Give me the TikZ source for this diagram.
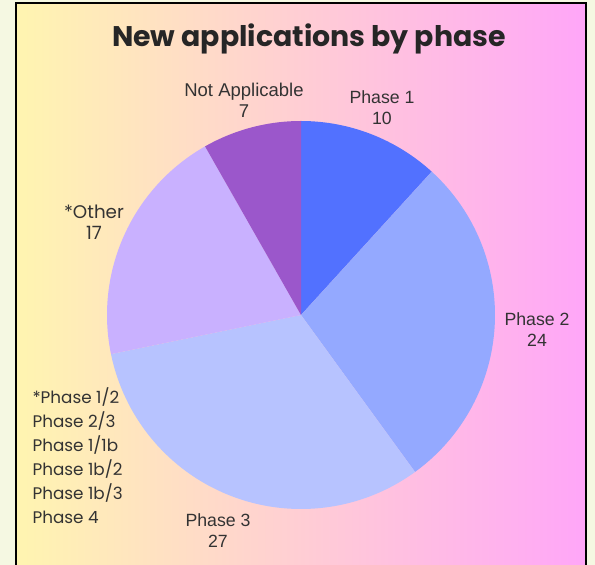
\documentclass[tikz,border=0pt]{standalone}
\usepackage{fontspec}
\setmainfont{Poppins}
\newfontfamily\labfont{Liberation Sans}
\definecolor{pageback}{HTML}{F5F8E2}
\definecolor{gradleft}{HTML}{FFF5B0}
\definecolor{gradmid}{HTML}{FFD3CF}
\definecolor{gradright}{HTML}{FFA6F8}
\definecolor{phaseone}{HTML}{5271FF}
\definecolor{phasetwo}{HTML}{94A9FF}
\definecolor{phasethree}{HTML}{B7C3FF}
\definecolor{otherslice}{HTML}{C9B1FF}
\definecolor{naslice}{HTML}{9B57CB}
\definecolor{labtext}{HTML}{333333}
\tikzset{
    slicelabel/.style={align=center, text=labtext, font=\labfont\fontsize{17.7}{21}\selectfont},
    listlabel/.style={anchor=west, text=labtext, font=\fontsize{16.8}{19}\selectfont}
}
\begin{document}
\begin{tikzpicture}[x=1pt, y=1pt]

    % Page and panel
    \useasboundingbox (0, 0) rectangle (595, 565);
    \fill[pageback] (0, 0) rectangle (595, 565); % page
    \shade[left color=gradleft, middle color=gradmid, right color=gradright] (16, 0) rectangle (586, 562); % panel
    \draw[line width=2pt] (16, -2) -- (16, 562) -- (586, 562) -- (586, -2); % panel border

    % Title
    \node[text=black!85, font=\bfseries\fontsize{28.4}{32}\selectfont] (title) at (309, 526) {New applications by phase};

    % Pie slices
    \begin{scope}[shift={(301, 250)}]
        \coordinate (ctr) at (0, 0);
        \fill[phaseone] (ctr) -- (90:194) arc[start angle=90, end angle=47.647, radius=194] -- cycle; % Phase 1
        \fill[phasetwo] (ctr) -- (47.647:194) arc[start angle=47.647, end angle=-54, radius=194] -- cycle; % Phase 2
        \fill[phasethree] (ctr) -- (-54:194) arc[start angle=-54, end angle=-168.353, radius=194] -- cycle; % Phase 3
        \fill[otherslice] (ctr) -- (-168.353:194) arc[start angle=-168.353, end angle=-240.353, radius=194] -- cycle; % Other
        \fill[naslice] (ctr) -- (-240.353:194) arc[start angle=-240.353, end angle=-270, radius=194] -- cycle; % Not Applicable
    \end{scope}

    % Slice labels
    \node[slicelabel, font=\labfont\fontsize{18.5}{21}\selectfont] (na) at (244, 465) {Not Applicable\\7};
    \node[slicelabel] (one) at (382, 457) {Phase 1\\10};
    \node[slicelabel] (two) at (537, 235) {Phase 2\\24};
    \node[slicelabel] (three) at (218, 34) {Phase 3\\27};
    \node[slicelabel, font=\fontsize{18.3}{21}\selectfont] (other) at (94, 343) {*Other\\17};

    % Phases counted as other
    \node[listlabel] (lone) at (29, 168) {*Phase 1/2};
    \node[listlabel] (ltwo) at (29, 144) {Phase 2/3};
    \node[listlabel] (lthree) at (29, 120) {Phase 1/1b};
    \node[listlabel] (lfour) at (29, 96) {Phase 1b/2};
    \node[listlabel] (lfive) at (29, 72) {Phase 1b/3};
    \node[listlabel] (lsix) at (29, 48) {Phase 4};

\end{tikzpicture}
\end{document}
